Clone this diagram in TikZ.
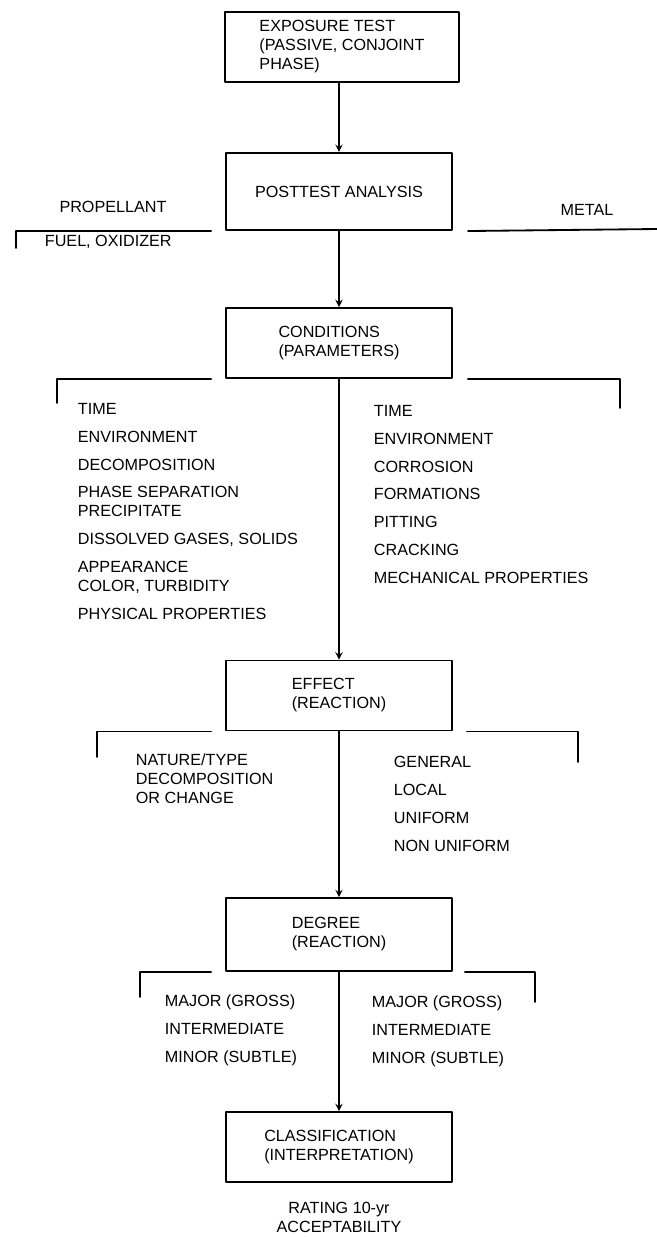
\documentclass[tikz,border=0pt]{standalone}
\usepackage{fontspec}
\setmainfont{Liberation Sans}
\usetikzlibrary{positioning}
\newcommand{\itemgap}{6.4pt}
\begin{document}
\begin{tikzpicture}[x=0.025cm, y=-0.025cm, line join=round, line cap=round, >=stealth, line width=1.3pt]
    \tikzset{box/.style={draw, minimum width=5.65cm, minimum height=1.75cm, align=left, inner sep=0pt, font=\fontsize{11.5}{13.5}\selectfont},
             txt/.style={inner sep=0pt, font=\fontsize{11.5}{13.5}\selectfont},
             list/.style={txt, align=left, anchor=north west}}
    \useasboundingbox (0,0) rectangle (657,1237);
    % main column
    \node[box, minimum width=5.83cm] (expo) at (342,47) {EXPOSURE TEST\\(PASSIVE, CONJOINT\\PHASE)};
    \node[box, minimum height=1.93cm] (post) at (339,191.5) {POSTTEST ANALYSIS};
    \node[box] (cond) at (339,343) {CONDITIONS\\(PARAMETERS)};
    \node[box] (effect) at (339,695.5) {EFFECT\\(REACTION)};
    \node[box, minimum height=1.82cm] (degree) at (339,934.5) {DEGREE\\(REACTION)};
    \node[box] (class) at (339,1147) {CLASSIFICATION\\(INTERPRETATION)};
    \node[txt, align=center, below=0.45cm of class] (rating) {RATING 10-yr\\ACCEPTABILITY};
    \draw[->] (post.north |- expo.south) -- (post.north);
    \draw[->] (post) -- (cond);
    \draw[->] (cond) -- (effect);
    \draw[->] (effect) -- (degree);
    \draw[->] (degree) -- (class);
    % propellant / metal
    \node[txt] (prop) at (113,207) {PROPELLANT};
    \node[txt] (metal) at (587,210) {METAL};
    \coordinate (metalend) at (657,229);
    \draw ([xshift=-0.35cm]post.south west) -| (16,248);
    \draw ([xshift=0.375cm]post.south east) -- (metalend);
    \node[txt, anchor=west] (fuel) at (44,242) {FUEL, OXIDIZER};
    % conditions
    \draw ([xshift=-0.35cm]cond.south west) -| (57,403);
    \draw ([xshift=0.375cm]cond.south east) -| (620,408);
    \node[list] (condl) at (77,402) {TIME\\[\itemgap]ENVIRONMENT\\[\itemgap]DECOMPOSITION\\[\itemgap]PHASE SEPARATION\\PRECIPITATE\\[\itemgap]DISSOLVED GASES, SOLIDS\\[\itemgap]APPEARANCE\\COLOR, TURBIDITY\\[\itemgap]PHYSICAL PROPERTIES};
    \node[list] (condr) at (373,404) {TIME\\[\itemgap]ENVIRONMENT\\[\itemgap]CORROSION\\[\itemgap]FORMATIONS\\[\itemgap]PITTING\\[\itemgap]CRACKING\\[\itemgap]MECHANICAL PROPERTIES};
    % effect
    \draw ([xshift=-0.35cm]effect.south west) -| (97,757);
    \draw ([xshift=0.35cm]effect.south east) -| (578,762);
    \node[list] (effl) at (135,753) {NATURE/TYPE\\DECOMPOSITION\\OR CHANGE};
    \node[list] (effr) at (393,755) {GENERAL\\[\itemgap]LOCAL\\[\itemgap]UNIFORM\\[\itemgap]NON UNIFORM};
    % degree
    \draw ([xshift=-0.35cm]degree.south west) -| (140,997);
    \draw ([xshift=0.3cm]degree.south east) -| (535,1002);
    \node[list] (degl) at (164,994) {MAJOR (GROSS)\\[\itemgap]INTERMEDIATE\\[\itemgap]MINOR (SUBTLE)};
    \node[list] (degr) at (371,995) {MAJOR (GROSS)\\[\itemgap]INTERMEDIATE\\[\itemgap]MINOR (SUBTLE)};
\end{tikzpicture}
\end{document}
